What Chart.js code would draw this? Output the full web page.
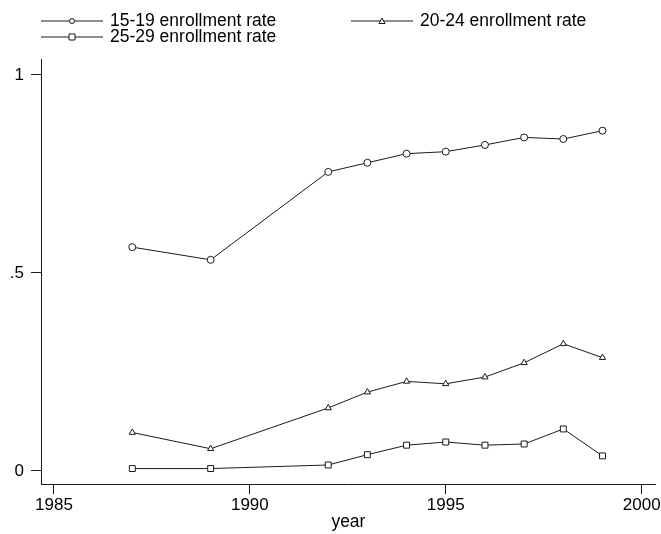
<!DOCTYPE html>
<html>
<head>
<meta charset="utf-8">
<script src="https://cdn.jsdelivr.net/npm/chart.js@4/dist/chart.umd.min.js"></script>
<style>
  html, body { margin: 0; padding: 0; background: #fff; }
  #wrap { width: 661px; height: 534px; }
</style>
</head>
<body>
<div id="wrap"><canvas id="c"></canvas></div>
<script>
const years = [1987, 1989, 1992, 1993, 1994, 1995, 1996, 1997, 1998, 1999];
const rate1519 = [0.565, 0.533, 0.755, 0.778, 0.801, 0.806, 0.823, 0.842, 0.838, 0.859];
const rate2024 = [0.097, 0.056, 0.159, 0.199, 0.226, 0.220, 0.237, 0.273, 0.321, 0.286];
const rate2529 = [0.006, 0.006, 0.015, 0.041, 0.065, 0.073, 0.065, 0.068, 0.106, 0.038];
const xTicks = [1985, 1990, 1995, 2000];
const yTicks = [0, 0.5, 1];
const yTickLabels = ["0", ".5", "1"];

const FONT = "Liberation Sans, Arial, sans-serif";
const INK = "#1a1a1a";

const toPoints = (vals) => vals.map((v, i) => ({ x: years[i], y: v }));

const makeSet = (label, vals, style, r) => ({
  label,
  data: toPoints(vals),
  borderColor: INK,
  borderWidth: 1,
  pointStyle: style,
  pointRadius: r,
  pointHoverRadius: r,
  pointBorderColor: INK,
  pointBackgroundColor: "#fff",
  pointBorderWidth: 1,
  tension: 0,
  fill: false,
});

// stata-like legend: line - marker - line, then the label
const legendSpots = [
  { x: 41, y: 21 },
  { x: 351, y: 21 },
  { x: 41, y: 37 },
];

function legendMarker(ctx, style, cx, cy) {
  ctx.beginPath();
  if (style === "circle") {
    ctx.arc(cx, cy, 2.5, 0, Math.PI * 2);
  } else if (style === "triangle") {
    ctx.moveTo(cx, cy - 3);
    ctx.lineTo(cx + 3, cy + 2.5);
    ctx.lineTo(cx - 3, cy + 2.5);
    ctx.closePath();
  } else {
    ctx.rect(cx - 3, cy - 3, 6, 6);
  }
  ctx.fill();
  ctx.stroke();
}

const stataLegend = {
  id: "stataLegend",
  afterDraw(chart) {
    const ctx = chart.ctx;
    ctx.save();
    chart.data.datasets.forEach((ds, i) => {
      const p = legendSpots[i];
      ctx.strokeStyle = INK;
      ctx.lineWidth = 1;
      ctx.beginPath();
      ctx.moveTo(p.x, p.y);
      ctx.lineTo(p.x + 62, p.y);
      ctx.stroke();
      ctx.fillStyle = "#fff";
      legendMarker(ctx, ds.pointStyle, p.x + 31, p.y);
      ctx.fillStyle = "#000";
      ctx.font = "17.5px " + FONT;
      ctx.textBaseline = "middle";
      ctx.textAlign = "left";
      ctx.fillText(ds.label, p.x + 69, p.y);
    });
    ctx.restore();
  },
};

new Chart(document.getElementById("c"), {
  type: "line",
  data: {
    datasets: [
      makeSet("15-19 enrollment rate", rate1519, "circle", 3.5),
      makeSet("20-24 enrollment rate", rate2024, "triangle", 3.6),
      makeSet("25-29 enrollment rate", rate2529, "rect", 4.2),
    ],
  },
  options: {
    responsive: true,
    maintainAspectRatio: false,
    animation: false,
    layout: { padding: { top: 59, left: 0, right: 0, bottom: 0 } },
    plugins: {
      legend: { display: false },
      tooltip: { enabled: false },
    },
    scales: {
      x: {
        type: "linear",
        min: 1984.67,
        max: 2000.36,
        afterBuildTicks: (s) => { s.ticks = xTicks.map((v) => ({ value: v })); },
        afterFit: (s) => {
          s.height = 50;
          s.paddingLeft = 0;
          s.paddingRight = 0;
        },
        grid: { display: true, drawOnChartArea: false, drawTicks: true, tickLength: 10, color: INK },
        border: { display: true, color: INK, width: 1 },
        ticks: {
          color: "#000",
          font: { family: FONT, size: 17 },
          padding: 1,
          maxRotation: 0,
          callback: (v) => String(v),
        },
        title: { display: true, text: "year", color: "#000", font: { family: FONT, size: 17.5 }, padding: { top: 0, bottom: 1 } },
      },
      y: {
        type: "linear",
        min: -0.033,
        max: 1.04,
        afterBuildTicks: (s) => { s.ticks = yTicks.map((v) => ({ value: v })); },
        afterFit: (s) => {
          s.width = 41;
          s.paddingTop = 0;
          s.paddingBottom = 0;
        },
        grid: { display: true, drawOnChartArea: false, drawTicks: true, tickLength: 10, color: INK },
        border: { display: true, color: INK, width: 1 },
        ticks: {
          color: "#000",
          font: { family: FONT, size: 17 },
          padding: 7,
          callback: (v) => yTickLabels[yTicks.indexOf(v)] ?? "",
        },
      },
    },
  },
  plugins: [stataLegend],
});
</script>
</body>
</html>
